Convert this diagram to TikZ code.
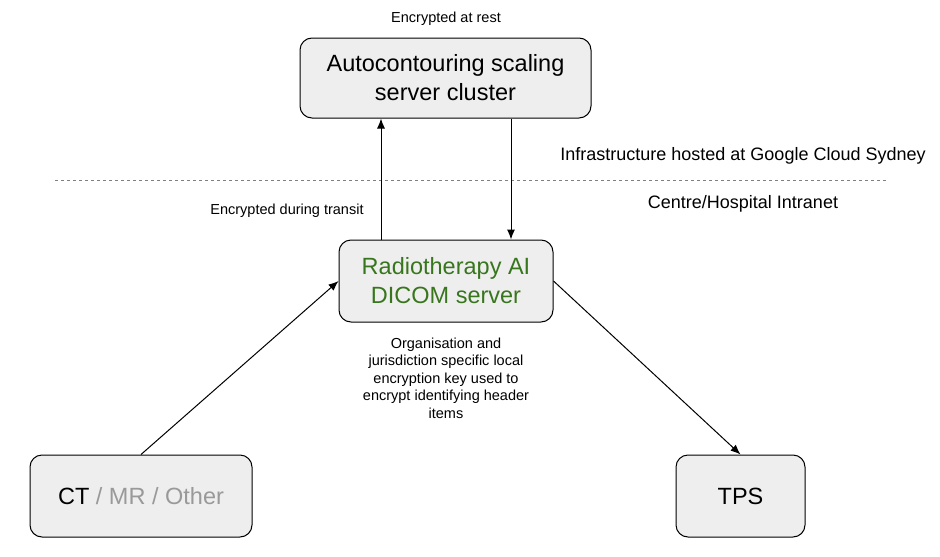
\documentclass[tikz,border=0pt]{standalone}
\usepackage{fontspec}
\setmainfont{Liberation Sans}
\usetikzlibrary{arrows.meta}
\definecolor{boxfill}{HTML}{EEEEEE}
\definecolor{servgreen}{HTML}{38761D}
\definecolor{lightgrey}{HTML}{999999}
\begin{document}
\begin{tikzpicture}[x=1pt, y=-1pt,
  box/.style={draw, line width=1pt, rounded corners=12pt, fill=boxfill, align=center, font=\fontsize{23.5}{29}\selectfont},
  small/.style={align=center, font=\fontsize{14.5}{17.5}\selectfont},
  side/.style={font=\fontsize{18}{20}\selectfont},
  link/.style={-{Latex[length=10pt,width=8pt]}, line width=1pt}]
\useasboundingbox (0,0) rectangle (940,557);
\coordinate (Cl) at (445.5,78);
\coordinate (Sv) at (446,281);
\coordinate (Ct) at (141,496);
\coordinate (Tp) at (740.5,496);
\coordinate (up) at (381,0);
\coordinate (down) at (511,0);
\coordinate (dl) at (55,180);
\coordinate (dr) at (888,180);

\node[box, minimum width=291, minimum height=80] (cluster) at (Cl) {Autocontouring scaling\\server cluster};
\node[box, minimum width=214, minimum height=82, text=servgreen] (server) at (Sv) {Radiotherapy AI\\DICOM server};
\node[box, minimum width=222, minimum height=82] (ct) at (Ct) {CT \textcolor{lightgrey}{/ MR / Other}};
\node[box, minimum width=129, minimum height=82] (tps) at (Tp) {TPS};

\node[small] (rest) at (446,19) {Encrypted at rest};
\node[small] (transit) at (287,211) {Encrypted during transit};
\node[small] (key) at (446,378) {Organisation and\\jurisdiction specific local\\encryption key used to\\encrypt identifying header\\items};
\node[side] (cloud) at (743,156) {Infrastructure hosted at Google Cloud Sydney};
\node[side] (intranet) at (743,204) {Centre/Hospital Intranet};

\draw[dashed, line width=0.8pt, gray] (dl) -- (dr);
\draw[link] (server.north -| up) -- (cluster.south -| up);
\draw[link] (cluster.south -| down) -- (server.north -| down);
\draw[link] (ct.north) -- (server.west);
\draw[link] (server.east) -- (tps.north);
\end{tikzpicture}
\end{document}
